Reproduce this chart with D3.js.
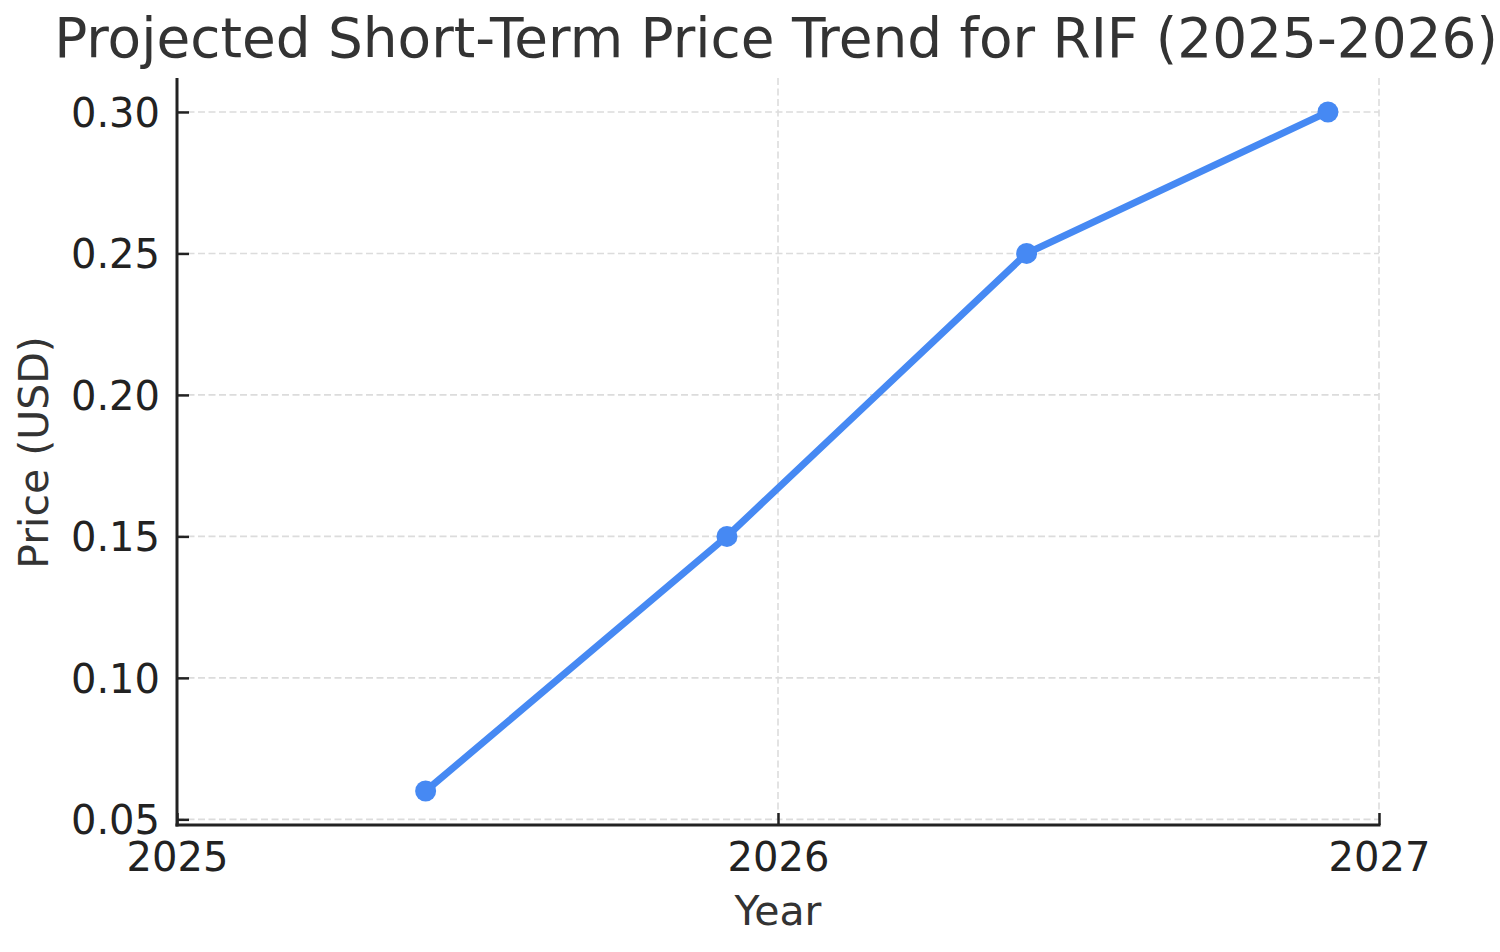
<!DOCTYPE html>
<html>
<head>
<meta charset="utf-8">
<script src="https://cdn.jsdelivr.net/npm/d3@7"></script>
<style>
  html, body { margin: 0; padding: 0; background: #fff; }
  svg { display: block; font-family: "DejaVu Sans", sans-serif; }
</style>
</head>
<body>
<svg id="chart" width="1500" height="952"></svg>
<script>
// ---- data ----
const dates = ["2025-06-01", "2025-12-01", "2026-06-01", "2026-12-01"];
const prices = [0.06, 0.15, 0.25, 0.30];
const xTickYears = [2025, 2026, 2027];
const yTickValues = [0.05, 0.10, 0.15, 0.20, 0.25, 0.30];
const title = "Projected Short-Term Price Trend for RIF (2025-2026)";
const xLabel = "Year";
const yLabel = "Price (USD)";

// ---- layout ----
(function () {
const svg = d3.select("#chart");
const pLeft = 177, pRight = 1379, pTop = 78, pBottom = 825;
const parse = d3.timeParse("%Y-%m-%d");
const data = dates.map((d, i) => ({ date: parse(d), value: prices[i] }));

const x = d3.scaleTime()
  .domain([new Date(2025, 0, 1), new Date(2027, 0, 1)])
  .range([pLeft, pRight]);
const y = d3.scaleLinear()
  .domain([0.048, 0.312])
  .range([pBottom, pTop]);

const xTicks = xTickYears.map(yr => new Date(yr, 0, 1));

// grid
const grid = svg.append("g");
grid.selectAll("line.gy").data(yTickValues).enter().append("line")
  .attr("x1", pLeft).attr("x2", pRight)
  .attr("y1", d => y(d)).attr("y2", d => y(d))
  .attr("stroke", "#dcdcdc").attr("stroke-width", 1.6)
  .attr("stroke-dasharray", "7,3.5");
grid.selectAll("line.gx").data(xTicks).enter().append("line")
  .attr("x1", d => x(d)).attr("x2", d => x(d))
  .attr("y1", pTop).attr("y2", pBottom)
  .attr("stroke", "#dcdcdc").attr("stroke-width", 1.6)
  .attr("stroke-dasharray", "7,3.5");

// axes
const xAxis = d3.axisBottom(x).tickValues(xTicks)
  .tickFormat(d3.timeFormat("%Y")).tickSizeInner(-12).tickSizeOuter(0).tickPadding(24);
const yAxis = d3.axisLeft(y).tickValues(yTickValues)
  .tickFormat(d3.format(".2f")).tickSizeInner(-12).tickSizeOuter(0).tickPadding(18);

const gx = svg.append("g").attr("transform", `translate(0,${pBottom})`).call(xAxis);
const gy = svg.append("g").attr("transform", `translate(${pLeft},0)`).call(yAxis);

[gx, gy].forEach(g => {
  g.select(".domain").remove();
  g.selectAll(".tick line").attr("stroke", "#222").attr("stroke-width", 2.5);
  g.selectAll(".tick text").attr("fill", "#222").attr("font-size", 40)
    .attr("font-family", "DejaVu Sans, sans-serif");
});
gx.selectAll(".tick text").attr("dy", null).attr("y", 46);
gy.selectAll(".tick text").attr("x", -17).attr("dy", "0.36em");

// spines
svg.append("line").attr("x1", pLeft).attr("x2", pLeft).attr("y1", pTop).attr("y2", pBottom + 1.5)
  .attr("stroke", "#222").attr("stroke-width", 3);
svg.append("line").attr("x1", pLeft - 1.5).attr("x2", pRight + 1.5).attr("y1", pBottom).attr("y2", pBottom)
  .attr("stroke", "#222").attr("stroke-width", 3);

// line
const line = d3.line().x(d => x(d.date)).y(d => y(d.value));
svg.append("path").datum(data)
  .attr("d", line).attr("fill", "none")
  .attr("stroke", "#4689F3").attr("stroke-width", 7)
  .attr("stroke-linejoin", "round").attr("stroke-linecap", "round");
svg.selectAll("circle.pt").data(data).enter().append("circle")
  .attr("cx", d => x(d.date)).attr("cy", d => y(d.value)).attr("r", 10.5)
  .attr("fill", "#4689F3");

// title and labels
svg.append("text").attr("x", (pLeft + pRight) / 2 - 2).attr("y", 57)
  .attr("text-anchor", "middle").attr("font-size", 54.9).attr("fill", "#333")
  .text(title);
svg.append("text").attr("x", (pLeft + pRight) / 2).attr("y", 925)
  .attr("text-anchor", "middle").attr("font-size", 41).attr("fill", "#333")
  .text(xLabel);
svg.append("text")
  .attr("transform", `translate(48,${(pTop + pBottom) / 2 + 1}) rotate(-90)`)
  .attr("text-anchor", "middle").attr("font-size", 41).attr("fill", "#333")
  .text(yLabel);
})();
</script>
</body>
</html>
